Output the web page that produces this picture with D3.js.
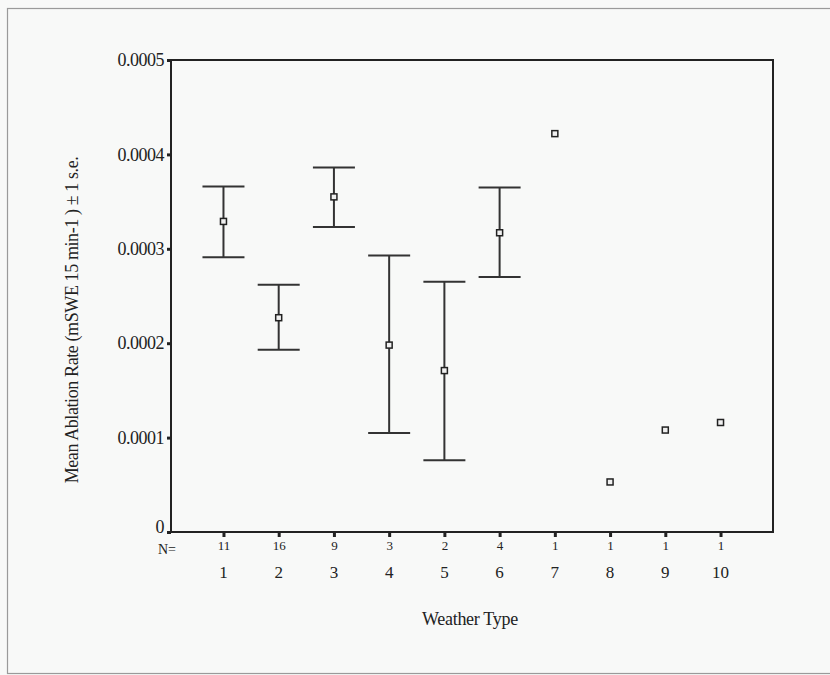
<!doctype html>
<html>
<head>
<meta charset="utf-8">
<title>Mean Ablation Rate by Weather Type</title>
<script src="https://cdn.jsdelivr.net/npm/d3@7"></script>
<style>
    body { margin: 0; background: #f8f9f8; }
    svg text { font-family: "Liberation Serif", "DejaVu Serif", serif; fill: #222; }
    .domain { display: none; }
    .tick line { stroke: #222; stroke-width: 3; }
</style>
</head>
<body>
<div id="chart"></div>
<script>
// weather types and sample counts
var types = [1, 2, 3, 4, 5, 6, 7, 8, 9, 10];
var counts = [11, 16, 9, 3, 2, 4, 1, 1, 1, 1];
// mean ablation rate and +/- 1 s.e. (null where n = 1)
var means = [0.000329, 0.000227, 0.000355, 0.000198, 0.000171, 0.000317, 0.000422, 0.000053, 0.000108, 0.000116];
var upper = [0.000366, 0.000262, 0.000386, 0.000293, 0.000265, 0.000365, null, null, null, null];
var lower = [0.000291, 0.000193, 0.000323, 0.000105, 0.000076, 0.000270, null, null, null, null];
var yTicks = [0, 0.0001, 0.0002, 0.0003, 0.0004, 0.0005];

var W = 830, H = 675;
var plotL = 171, plotR = 773, plotT = 60, plotB = 532;

var svg = d3.select("#chart").append("svg")
    .attr("width", W)
    .attr("height", H);

// outer frame
svg.append("rect")
    .attr("x", 7.5).attr("y", 8.5)
    .attr("width", W).attr("height", 665)
    .attr("fill", "#f8f9f8")
    .attr("stroke", "#9a9a9a")
    .attr("stroke-width", 1.2);

var x = d3.scalePoint().domain(types).range([plotL, plotR]).padding(0.95);
var y = d3.scaleLinear().domain([0, 0.0005]).range([plotB, plotT]);

// Y axis
var yg = svg.append("g")
    .attr("transform", "translate(" + plotL + ",0)")
    .call(d3.axisLeft(y).tickValues(yTicks).tickSize(4).tickPadding(3)
        .tickFormat(function(d) { return d === 0 ? "0" : d3.format(".4f")(d); }));
yg.selectAll("text").style("font-size", "18px").style("letter-spacing", "-0.5px");
// the zero label sits a little above the baseline
yg.selectAll("text").filter(function(d) { return d === 0; }).attr("y", -5);

// X axis: ticks + N= row
var xg = svg.append("g")
    .attr("transform", "translate(0," + plotB + ")")
    .call(d3.axisBottom(x).tickSize(5).tickPadding(4)
        .tickFormat(function(d, i) { return counts[i]; }));
xg.selectAll("text").style("font-size", "13px");

// weather type labels
svg.append("g").selectAll("text")
    .data(types)
    .enter().append("text")
    .attr("x", function(d) { return x(d); })
    .attr("y", 578)
    .attr("text-anchor", "middle")
    .style("font-size", "17px")
    .text(function(d) { return d; });

svg.append("text")
    .attr("x", 167).attr("y", 554)
    .attr("text-anchor", "middle")
    .style("font-size", "14px")
    .text("N=");

// plot box
svg.append("rect")
    .attr("x", plotL).attr("y", plotT)
    .attr("width", plotR - plotL).attr("height", plotB - plotT)
    .attr("fill", "none")
    .attr("stroke", "#222")
    .attr("stroke-width", 2);

// error bars
var rows = types.map(function(t, i) {
    return { t: t, m: means[i], hi: upper[i], lo: lower[i] };
});
var cap = 21;
var bars = svg.append("g").attr("stroke", "#333").attr("stroke-width", 2)
    .selectAll("g")
    .data(rows.filter(function(d) { return d.hi !== null; }))
    .enter().append("g");

bars.append("line")
    .attr("x1", function(d) { return x(d.t); })
    .attr("x2", function(d) { return x(d.t); })
    .attr("y1", function(d) { return y(d.hi); })
    .attr("y2", function(d) { return y(d.lo); });
bars.append("line")
    .attr("x1", function(d) { return x(d.t) - cap; })
    .attr("x2", function(d) { return x(d.t) + cap; })
    .attr("y1", function(d) { return y(d.hi); })
    .attr("y2", function(d) { return y(d.hi); });
bars.append("line")
    .attr("x1", function(d) { return x(d.t) - cap; })
    .attr("x2", function(d) { return x(d.t) + cap; })
    .attr("y1", function(d) { return y(d.lo); })
    .attr("y2", function(d) { return y(d.lo); });

// mean markers
svg.append("g").selectAll("rect")
    .data(rows)
    .enter().append("rect")
    .attr("x", function(d) { return x(d.t) - 3; })
    .attr("y", function(d) { return y(d.m) - 3; })
    .attr("width", 6).attr("height", 6)
    .attr("fill", "#f0f0f0")
    .attr("stroke", "#222")
    .attr("stroke-width", 1.5);

// axis titles
svg.append("text")
    .attr("transform", "translate(78,320) rotate(-90)")
    .attr("text-anchor", "middle")
    .style("font-size", "18px")
    .style("letter-spacing", "-0.4px")
    .text("Mean Ablation Rate (mSWE 15 min-1 ) \u00b1 1 s.e.");

svg.append("text")
    .attr("x", 470).attr("y", 625)
    .attr("text-anchor", "middle")
    .style("font-size", "18px")
    .style("letter-spacing", "-0.3px")
    .text("Weather Type");
</script>
</body>
</html>
